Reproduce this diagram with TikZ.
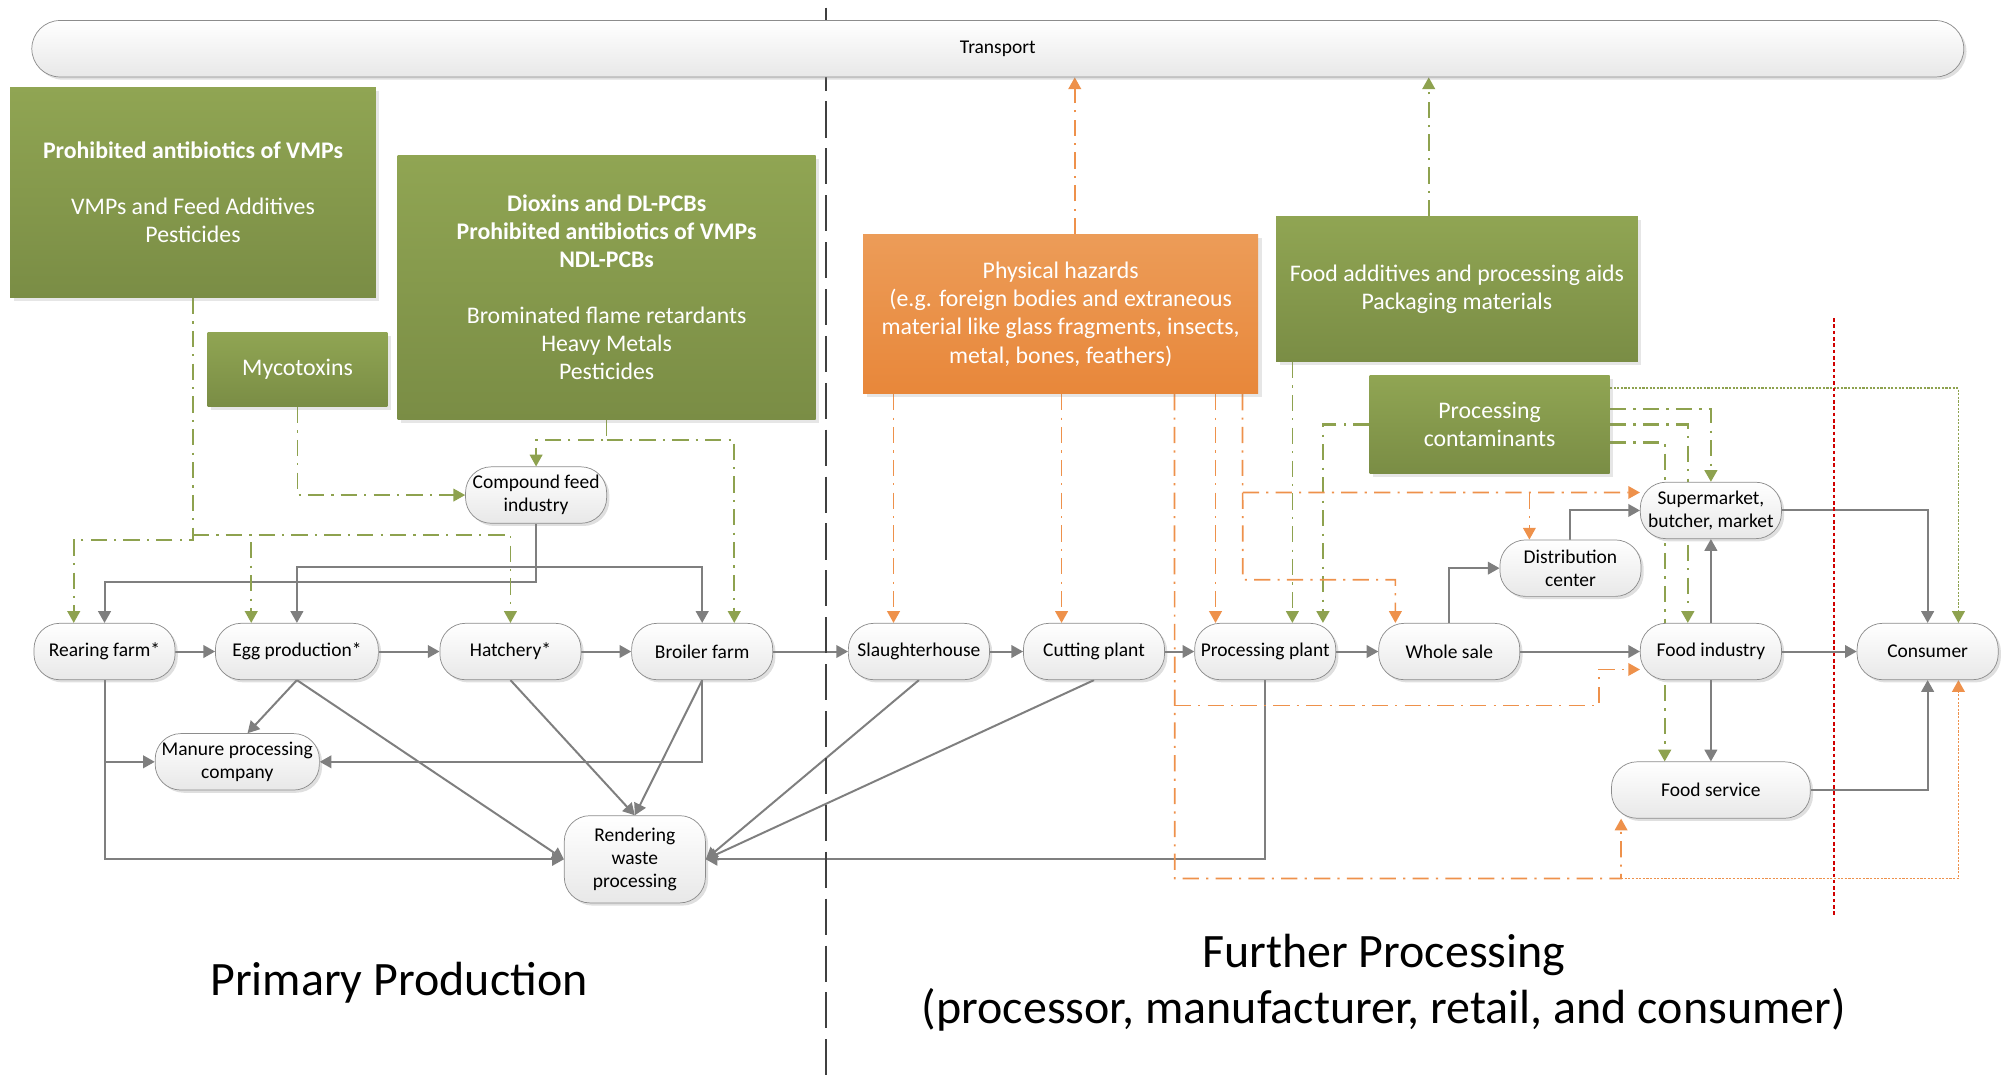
\documentclass[tikz,border=0pt]{standalone}
\usepackage{fontspec}
\setmainfont{Carlito}
\usetikzlibrary{arrows.meta, calc, shadows, backgrounds}

\definecolor{flowgray}{HTML}{7F7F7F}
\definecolor{nodeline}{HTML}{8C8C8C}
\definecolor{nodefill}{HTML}{E8E8E8}
\definecolor{grnline}{HTML}{8EA24F}
\definecolor{grntop}{HTML}{90A553}
\definecolor{grnbot}{HTML}{7A8D45}
\definecolor{orgline}{HTML}{EE914B}
\definecolor{orgtop}{HTML}{EC9C58}
\definecolor{orgbot}{HTML}{E8873A}
\definecolor{divred}{HTML}{D00000}
\definecolor{divgray}{HTML}{404040}

\newcommand{\stagefont}{\fontsize{10.8}{12.8}\selectfont}
\newcommand{\boxfont}{\fontsize{13.2}{15.6}\selectfont}
\newcommand{\phasefont}{\fontsize{26.6}{31}\selectfont}

\tikzset{
  stage/.style={draw=nodeline, rounded corners=0.5cm, top color=white, bottom color=nodefill,
    minimum width=2.75cm, minimum height=1.1cm, inner sep=1pt, align=center, font=\stagefont,
    drop shadow={opacity=0.25, shadow xshift=1.5pt, shadow yshift=-1.5pt}},
  greenbox/.style={top color=grntop, bottom color=grnbot, text=white, align=center,
    font=\boxfont, inner sep=2pt, drop shadow={opacity=0.2, shadow xshift=2pt, shadow yshift=-2pt}},
  orangebox/.style={greenbox, top color=orgtop, bottom color=orgbot},
  flow/.style={draw=flowgray, line width=1.1pt, -{Triangle[length=6.5pt,width=7pt]}},
  grnflow/.style={draw=grnline, line width=0.95pt, dash pattern=on 9pt off 4pt on 1.2pt off 4pt,
    -{Triangle[length=6.5pt,width=7pt]}},
  pcflow/.style={grnflow, line width=1.3pt, dash pattern=on 9pt off 4pt on 1.3pt off 4pt},
  grndot/.style={grnflow, dash pattern=on 1.2pt off 0.8pt},
  orgflow/.style={draw=orgline, line width=0.95pt, dash pattern=on 9pt off 4pt on 1.2pt off 4pt,
    -{Triangle[length=6.5pt,width=7pt]}},
  orgdot/.style={orgflow, dash pattern=on 1.2pt off 0.8pt},
  divider/.style={draw=divgray, line width=0.8pt, dash pattern=on 20pt off 6pt},
  redline/.style={draw=divred, line width=0.8pt, dash pattern=on 2pt off 1.5pt}
}

\begin{document}
\begin{tikzpicture}[x=0.025cm, y=-0.025cm]
    \useasboundingbox (0,0) rectangle (1568,840);

    \draw[divider] (644,6) -- (644,840);% phase border
    \draw[redline] (1430,248) -- (1430,715);

    \node[stage, minimum width=37.65cm, rounded corners=0.55cm] (trans) at (778,38) {Transport};

    % hazards
    \node[greenbox, minimum width=7.125cm, minimum height=4.1cm] (vmp) at (150.5,150)
        {\textbf{Prohibited antibiotics of VMPs}\\[15.6pt]VMPs and Feed Additives\\Pesticides};
    \node[greenbox, minimum width=3.5cm, minimum height=1.45cm] (myco) at (232,288) {Mycotoxins};
    \node[greenbox, minimum width=8.15cm, minimum height=5.15cm] (diox) at (473,224)
        {\textbf{Dioxins and DL-PCBs}\\\textbf{Prohibited antibiotics of VMPs}\\\textbf{NDL-PCBs}\\[15.6pt]Brominated flame retardants\\Heavy Metals\\Pesticides};
    \node[orangebox, minimum width=7.7cm, minimum height=3.1cm] (phys) at (827,245)
        {Physical hazards\\(e.g. foreign bodies and extraneous\\material like glass fragments, insects,\\metal, bones, feathers)};
    \node[greenbox, minimum width=7.05cm, minimum height=2.825cm] (addit) at (1136,225.5)
        {Food additives and processing aids\\Packaging materials};
    \node[greenbox, minimum width=4.675cm, minimum height=1.9cm] (pcont) at (1161.5,331)
        {Processing\\contaminants};

    % chain
    \node[stage] (rear) at (81.5,508) {Rearing farm*};
    \node[stage, minimum width=3.175cm] (egg) at (231.5,508) {Egg production*};
    \node[stage] (hatch) at (398,508) {Hatchery*};
    \node[stage] (broil) at (547.5,508) {Broiler farm};
    \node[stage] (slaught) at (716.5,508) {Slaughterhouse};
    \node[stage] (cut) at (853,508) {Cutting plant};
    \node[stage] (proc) at (986.5,508) {Processing plant};
    \node[stage] (whole) at (1130,508) {Whole sale};
    \node[stage] (foodind) at (1334,508) {Food industry};
    \node[stage] (cons) at (1503,508) {Consumer};
    \node[stage] (super) at (1334,398) {Supermarket,\\butcher, market};
    \node[stage] (dist) at (1224.5,443) {Distribution\\center};
    \node[stage, minimum width=3.875cm] (fserv) at (1334,616) {Food service};
    \node[stage] (feed) at (418,386) {Compound feed\\industry};
    \node[stage, minimum width=3.2cm] (manure) at (185,594) {Manure processing\\company};
    \node[stage, minimum height=1.7cm] (render) at (495,670) {Rendering\\waste\\processing};

    \node[font=\phasefont] (primary) at (311,766) {Primary Production};
    \node[font=\phasefont, align=center] (further) at (1079,766)
        {Further Processing\\(processor, manufacturer, retail, and consumer)};

    \begin{scope}[on background layer]
        % product flow
        \draw[flow] (rear) -- (egg);
        \draw[flow] (egg) -- (hatch);
        \draw[flow] (hatch) -- (broil);
        \draw[flow] (broil) -- (slaught);
        \draw[flow] (slaught) -- (cut);
        \draw[flow] (cut) -- (proc);
        \draw[flow] (proc) -- (whole);
        \draw[flow] (whole) -- (foodind);
        \draw[flow] (foodind) -- (cons);
        \draw[flow] (whole.north) |- (dist.west);
        \draw[flow] (dist.north) |- (super.west);
        \draw[flow] (foodind) -- (super);
        \draw[flow] (foodind) -- (fserv);
        \draw[flow] (super.east) -| (cons.north);
        \draw[flow] (fserv.east) -| (cons.south);

        \coordinate (feedA) at (418,442);
        \coordinate (feedB) at (418,454);
        \draw[flow] (feed.south) -- (feedB) -| (rear.north);
        \draw[flow] (feedA) -| (egg.north);
        \draw[flow] (feedA) -| (broil.north);

        % by-products
        \draw[flow] (egg.south) -- ([xshift=0.2cm]manure.north);
        \draw[flow] (egg.south) -- (render.west);
        \draw[flow] (hatch.south) -- (render.north);
        \draw[flow] (broil.south) -- (render.north);
        \draw[flow] (broil.south) |- (manure.east);
        \draw[flow] (rear.south) |- (manure.west);
        \draw[flow] (rear.south) |- (render.west);
        \draw[flow] (slaught.south) -- (render.east);
        \draw[flow] (cut.south) -- (render.east);
        \draw[flow] (proc.south) |- (render.east);

        % chemical hazards
        \coordinate (vmpA) at (150.5,417);
        \coordinate (vmpB) at (150.5,421);
        \draw[grnflow] (vmp.south) -- (vmpB) -| ([xshift=-0.6cm]rear.north);
        \draw[grnflow] (vmpA) -| ([xshift=-0.89cm]egg.north);
        \draw[grnflow] (vmpA) -| (hatch.north);
        \draw[grnflow] (myco.south) |- (feed.west);
        \coordinate (dioxA) at (473,343);
        \draw[grnflow] (diox.south) -- (dioxA) -| (feed.north);
        \draw[grnflow] (dioxA) -| ([xshift=0.625cm]broil.north);

        \coordinate (addA) at ([xshift=0.325cm]addit.south west);
        \coordinate (addB) at ([xshift=-0.55cm]addit.north);
        \draw[grnflow] (addA) -- (addA |- proc.north);
        \draw[grnflow] (addB) -- (addB |- trans.south);

        \coordinate (pcA) at ([yshift=0.3cm]pcont.east);
        \coordinate (pcC) at ([yshift=-0.35cm]pcont.east);
        \coordinate (pcD) at ([yshift=-0.25cm]pcont.north east);
        \draw[pcflow] (pcA) -| (super.north);
        \draw[pcflow] (pcont.east) -| ([xshift=-0.45cm]foodind.north);
        \draw[pcflow] (pcC) -| ([xshift=-0.9cm]fserv.north);
        \draw[pcflow] (pcont.west) -| ([xshift=1.125cm]proc.north);
        \draw[grndot] (pcD) -| ([xshift=0.6cm]cons.north);

        % physical hazards
        \coordinate (phT) at ([xshift=0.275cm]phys.north);
        \coordinate (phA) at ([xshift=0.6cm]phys.south west);
        \coordinate (phB) at ([xshift=3.875cm]phys.south west);
        \coordinate (phC) at ([xshift=6.075cm]phys.south west);
        \coordinate (phD) at ([xshift=6.875cm]phys.south west);
        \coordinate (phE) at ([xshift=7.4cm]phys.south west);
        \draw[orgflow] (phT) -- (phT |- trans.south);
        \draw[orgflow] (phA) -- (phA |- slaught.north);
        \draw[orgflow] (phB) -- (phB |- cut.north);
        \draw[orgflow] (phD) -- (phD |- proc.north);

        \coordinate (phCm) at (916,550);
        \coordinate (phCb) at (916,685);
        \coordinate (fsIn) at ([xshift=-1.75cm]fserv.south);
        \coordinate (fiIn) at ([yshift=-0.35cm]foodind.west);
        \draw[orgflow] (phC) -- (phCb) -| (fsIn);
        \draw[orgdot] (fsIn |- phCb) -| ([xshift=0.6cm]cons.south);
        \draw[orgflow] (phCm) -| ($(fiIn)+(-32,0)$) -- (fiIn);

        \coordinate (phEm) at (969,384);
        \coordinate (phEb) at (969,452);
        \coordinate (supIn) at ([yshift=0.35cm]super.west);
        \coordinate (distIn) at ([xshift=-0.8cm]dist.north);
        \draw[orgflow] (phE) -- (phEb) -| ([xshift=-1.05cm]whole.north);
        \draw[orgflow] (phEm) -- (supIn);
        \draw[orgflow] (distIn |- phEm) -- (distIn);
    \end{scope}
\end{tikzpicture}
\end{document}
